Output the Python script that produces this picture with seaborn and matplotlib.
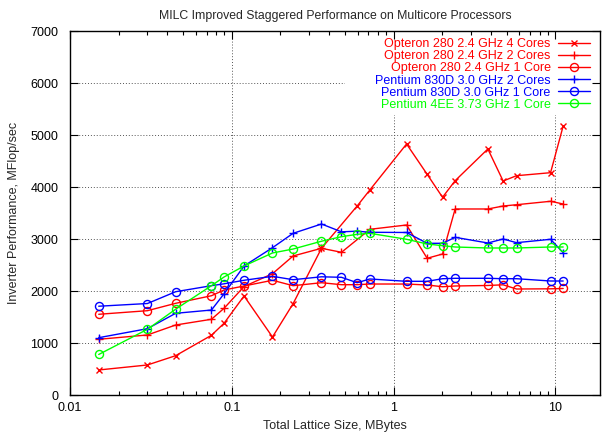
import numpy as np
import pandas as pd
import seaborn as sns
import matplotlib
matplotlib.use("Agg")
import matplotlib.pyplot as plt
from matplotlib.path import Path
from matplotlib.ticker import FixedLocator, LogLocator, NullFormatter

# ---------------- data ----------------
x_all = [0.01505, 0.0301, 0.0450, 0.0749, 0.0896, 0.1191, 0.1785, 0.2394, 0.3587,
         0.4768, 0.5956, 0.7137, 1.204, 1.614, 2.009, 2.404, 3.83, 4.76, 5.76, 9.35, 11.19]

opt4_x = [0.01505, 0.0301, 0.0450, 0.0749, 0.0896, 0.1191, 0.1785, 0.2394, 0.3587,
          0.5956, 0.7137, 1.204, 1.614, 2.009, 2.404, 3.83, 4.76, 5.76, 9.35, 11.19]
opt4_y = [487, 583, 762, 1154, 1385, 1910, 1121, 1762, 2827,
          3640, 3948, 4833, 4250, 3808, 4127, 4737, 4121, 4223, 4281, 5179]

opt2_x = [0.01505, 0.0301, 0.0450, 0.0749, 0.0896, 0.1191, 0.1785, 0.2394, 0.3587,
          0.4768, 0.7137, 1.204, 1.614, 2.009, 2.404, 3.83, 4.76, 5.76, 9.35, 11.19]
opt2_y = [1077, 1160, 1352, 1462, 1673, 2092, 2338, 2679, 2827,
          2750, 3192, 3275, 2635, 2717, 3583, 3583, 3640, 3665, 3731, 3679]

opt1_y = [1558, 1627, 1769, 1915, 2025, 2102, 2212, 2108, 2165, 2127, 2127,
          2140, 2140, 2121, 2088, 2102, 2112, 2125, 2044, 2048, 2054]
pen2_y = [1108, 1281, 1577, 1640, 1952, 2487, 2838, 3115, 3294, 3144, 3156,
          3135, 3131, 2923, 2923, 3038, 2929, 3006, 2935, 3000, 2742]
pen1_y = [1713, 1765, 1992, 2108, 2144, 2212, 2288, 2223, 2279, 2269, 2165,
          2237, 2192, 2192, 2242, 2250, 2250, 2242, 2242, 2198, 2198]
p4ee_y = [785, 1269, 1656, 2108, 2275, 2487, 2737, 2813, 2963, 3050, 3096,
          3115, 3000, 2910, 2877, 2852, 2833, 2833, 2833, 2852, 2852]

series_labels = ["Opteron 280 2.4 GHz 4 Cores", "Opteron 280 2.4 GHz 2 Cores",
                 "Opteron 280 2.4 GHz 1 Core", "Pentium 830D 3.0 GHz 2 Cores",
                 "Pentium 830D 3.0 GHz 1 Core", "Pentium 4EE 3.73 GHz 1 Core"]
xtick_vals = [0.01, 0.1, 1, 10]
xtick_labels = ["0.01", "0.1", "1", "10"]
ytick_vals = [0, 1000, 2000, 3000, 4000, 5000, 6000, 7000]

title = "MILC Improved Staggered Performance on Multicore Processors"
xlabel = "Total Lattice Size, MBytes"
ylabel = "Inverter Performance, MFlop/sec"

# ---------------- style ----------------
sns.set_style("ticks")
plt.rcParams["font.family"] = ["Liberation Sans", "DejaVu Sans"]
plt.rcParams["font.size"] = 9

RED, BLUE, GREEN = "#ff0000", "#0000ff", "#00ff00"

fig = plt.figure(figsize=(6.02, 4.32), dpi=100)
W, H = 602, 432
L, R, T, B = 70, 600, 31.3, 395.3
ax = fig.add_axes([L / W, (H - B) / H, (R - L) / W, (B - T) / H])

specs = [
    (opt4_x, opt4_y, RED, "x", 5.0),
    (opt2_x, opt2_y, RED, "+", 6.0),
    (x_all, opt1_y, RED, "o", 5.8),
    (x_all, pen2_y, BLUE, "+", 6.0),
    (x_all, pen1_y, BLUE, "o", 5.8),
    (x_all, p4ee_y, GREEN, "o", 5.8),
]

for (xs, ys, col, mk, ms), lab in zip(specs, series_labels):
    df = pd.DataFrame({"x": xs, "y": ys})
    sns.lineplot(data=df, x="x", y="y", ax=ax, color=col, marker=mk, markersize=ms,
                 markeredgewidth=1.0, markeredgecolor=col, markerfacecolor="none",
                 linewidth=1.0, label=lab, errorbar=None, sort=False)

ax.set_xscale("log")
ax.set_xlim(0.01, 18.9)
ax.set_ylim(0, 7000)
ax.xaxis.set_major_locator(FixedLocator(xtick_vals))
ax.set_xticklabels(xtick_labels)
ax.xaxis.set_minor_locator(LogLocator(base=10, subs=np.arange(2, 10)))
ax.xaxis.set_minor_formatter(NullFormatter())
ax.set_yticks(ytick_vals)
ax.set_yticklabels([str(v) for v in ytick_vals])

ax.tick_params(which="both", direction="in", top=True, right=True, color="black",
               labelsize=9, labelcolor="black")
ax.tick_params(which="major", length=6, width=0.8)
ax.tick_params(which="minor", length=3, width=0.8)
ax.tick_params(axis="y", which="major", pad=8.5)
ax.tick_params(axis="x", which="major", pad=5)
for s in ax.spines.values():
    s.set_color("black")
    s.set_linewidth(1.0)

ax.grid(True, which="major", color="#555555", linestyle=(0, (1, 2)), linewidth=0.7)

ax.set_xlabel(xlabel, fontsize=9, labelpad=4)
ax.set_ylabel(ylabel, fontsize=9, labelpad=7.5)
ax.set_title(title, fontsize=8.8, pad=8.5)

leg = ax.legend(loc="upper right", bbox_to_anchor=(590 / W, (H - 38.5) / H),
                bbox_transform=fig.transFigure, markerfirst=False, frameon=False,
                labelcolor="linecolor", fontsize=9, handlelength=2.6,
                handletextpad=0.55, labelspacing=0.0, borderpad=0, borderaxespad=0)

# hide grid lines under the key area (as gnuplot does), keeping ticks visible
fig.canvas.draw()
x0 = (345 - L) / (R - L)
y0 = (B - 115) / (B - T)
verts = [(0, 0), (1, 0), (1, 1), (0, 1), (0, 0),
         (x0, y0), (x0, 1.01), (1.01, 1.01), (1.01, y0), (x0, y0)]
codes = [Path.MOVETO, Path.LINETO, Path.LINETO, Path.LINETO, Path.CLOSEPOLY,
         Path.MOVETO, Path.LINETO, Path.LINETO, Path.LINETO, Path.CLOSEPOLY]
clip = Path(verts, codes)
for gl in ax.get_xgridlines() + ax.get_ygridlines():
    gl.set_clip_path(clip, ax.transAxes)

fig.savefig("out.png", dpi=100)
